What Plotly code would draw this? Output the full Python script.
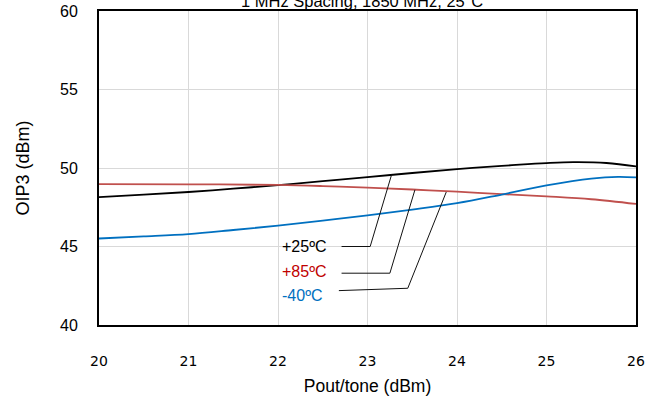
import plotly.graph_objects as go

# --- data ---
x_25 = [20, 20.5, 21, 21.5, 22, 22.5, 23, 23.5, 24, 24.5, 24.7, 25, 25.3, 25.67, 26]
y_25 = [48.15, 48.30, 48.47, 48.68, 48.91, 49.16, 49.42, 49.68, 49.93, 50.13, 50.21, 50.31, 50.37, 50.32, 50.10]

x_85 = [20, 21, 22, 22.5, 23, 23.5, 24, 24.5, 25, 25.5, 26]
y_85 = [48.97, 48.96, 48.92, 48.85, 48.75, 48.63, 48.49, 48.34, 48.19, 48.01, 47.71]

x_m40 = [20, 20.5, 21, 21.5, 22, 22.5, 23, 23.5, 24, 24.5, 25, 25.5, 25.8, 26]
y_m40 = [45.51, 45.64, 45.79, 46.05, 46.33, 46.65, 46.98, 47.35, 47.76, 48.31, 48.89, 49.33, 49.44, 49.40]

series_names = ["+25ºC", "+85ºC", "-40ºC"]
series_colors = ["#000000", "#c0504d", "#0070c0"]
label_colors = ["#000000", "#c00000", "#0070c0"]

# leader lines (label -> curve), data coordinates
lead_x = [[22.71, 23.03, 23.27], [22.71, 23.25, 23.53], [22.68, 23.45, 23.88]]
lead_y = [[45.00, 45.00, 49.59], [43.30, 43.30, 48.61], [42.19, 42.34, 48.47]]
label_x = [22.57, 22.57, 22.53]
label_y = [45.02, 43.40, 41.85]

title_text = "1 MHz Spacing, 1850 MHz, 25°C"
x_title = "Pout/tone (dBm)"
y_title = "OIP3 (dBm)"
x_ticks = [20, 21, 22, 23, 24, 25, 26]
y_ticks = [40, 45, 50, 55, 60]

fig = go.Figure()
for xs, ys, c, n in zip([x_25, x_85, x_m40], [y_25, y_85, y_m40], series_colors, series_names):
    fig.add_trace(go.Scatter(x=xs, y=ys, mode="lines", name=n,
                             line=dict(color=c, width=1.8, shape="spline", smoothing=1.0),
                             hoverinfo="skip"))

for lx, ly in zip(lead_x, lead_y):
    fig.add_trace(go.Scatter(x=lx, y=ly, mode="lines", line=dict(color="#111111", width=1),
                             hoverinfo="skip", showlegend=False))

for tx, ty, t, c in zip(label_x, label_y, series_names, label_colors):
    fig.add_annotation(x=tx, y=ty, xref="x", yref="y", text=t, showarrow=False,
                       xanchor="right", yanchor="middle",
                       font=dict(family="Liberation Sans, Arial", size=16, color=c))

fig.add_annotation(x=0.49, y=1, xref="paper", yref="paper", text=title_text, showarrow=False,
                   xanchor="center", yanchor="middle", yshift=10,
                   font=dict(family="Liberation Sans, Arial", size=16.5, color="#000000"))

fig.update_layout(
    width=658, height=396,
    margin=dict(l=99, r=22, t=11, b=71, autoexpand=False),
    paper_bgcolor="white", plot_bgcolor="white",
    showlegend=False,
    xaxis=dict(range=[20, 26], tickvals=x_ticks, ticktext=[str(v) for v in x_ticks],
               showgrid=True, gridcolor="#d9d9d9", gridwidth=1, automargin=False,
               showline=True, linecolor="#000000", linewidth=2, mirror=True,
               ticks="", ticklabelstandoff=22, zeroline=False,
               tickfont=dict(family="DejaVu Sans", size=14, color="#000000"),
               title=dict(text=x_title, standoff=12,
                          font=dict(family="Liberation Sans, Arial", size=17.5, color="#000000"))),
    yaxis=dict(range=[40, 60], tickvals=y_ticks, ticktext=[str(v) for v in y_ticks],
               showgrid=True, gridcolor="#d9d9d9", gridwidth=1, automargin=False,
               showline=True, linecolor="#000000", linewidth=2, mirror=True,
               ticks="", ticklabelstandoff=16, zeroline=False,
               tickfont=dict(family="Liberation Sans, Arial", size=16, color="#000000"),
               title=dict(text=y_title, standoff=26,
                          font=dict(family="Liberation Sans, Arial", size=18, color="#000000"))),
)

fig.write_html("out.html")
